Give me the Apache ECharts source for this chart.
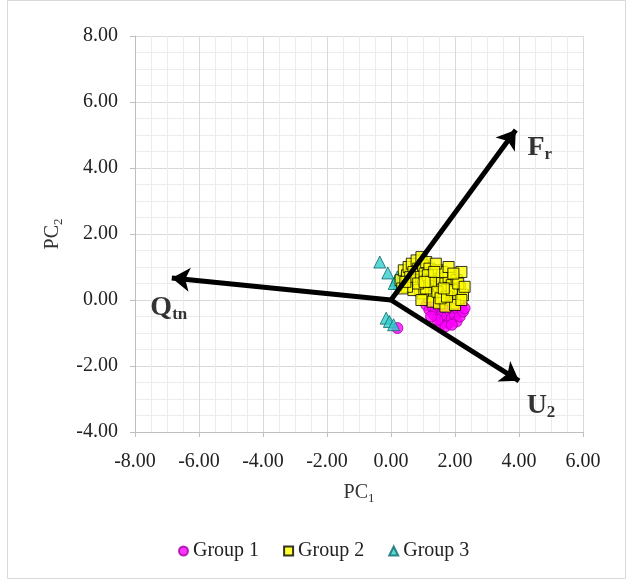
<!DOCTYPE html>
<html>
<head>
<meta charset="utf-8">
<script src="https://cdn.jsdelivr.net/npm/echarts@6/dist/echarts.min.js"></script>
<style>
  html, body { margin: 0; padding: 0; background: #fff; }
  #chart { width: 628px; height: 586px; }
</style>
</head>
<body>
<div id="chart"></div>
<script>
// PCA scores
var group1 = [
  [1.1,-0.15],[1.2,-0.3],[1.3,-0.2],[1.35,-0.45],[1.4,-0.3],[1.5,-0.55],[1.5,-0.2],
  [1.6,-0.4],[1.65,-0.65],[1.7,-0.25],[1.75,-0.5],[1.8,-0.7],[1.85,-0.35],[1.9,-0.55],
  [1.95,-0.2],[2.0,-0.45],[2.05,-0.65],[2.1,-0.3],[2.15,-0.5],[2.2,-0.15],[2.25,-0.35],
  [1.55,-0.75],[1.7,-0.8],[1.45,-0.6],[1.25,-0.5],[0.2,-0.85],[2.3,-0.25],[1.6,-0.05],
  [1.9,-0.75]
];
var group2 = [
  [0.3,0.6],[0.4,0.9],[0.5,0.75],[0.55,1.0],[0.6,0.5],[0.65,1.1],[0.7,0.85],[0.75,0.6],
  [0.8,1.2],[0.85,0.95],[0.9,0.7],[0.95,1.3],[1.0,1.05],[1.0,0.45],[1.05,0.8],[1.1,1.15],
  [1.15,0.6],[1.2,0.95],[1.25,0.3],[1.3,0.75],[1.35,0.5],[1.4,0.15],[1.45,0.9],[1.5,0.4],
  [1.55,0.65],[1.6,0.2],[1.65,0.0],[1.7,0.5],[1.75,0.3],[1.8,0.7],[1.85,0.1],[1.9,0.45],
  [1.95,-0.1],[2.0,0.25],[2.05,0.6],[2.1,0.05],[2.15,0.35],[2.2,0.85],[2.25,0.15],[1.2,0.1],
  [1.0,0.2],[0.9,0.3],[1.1,0.35],[0.7,0.3],[0.5,0.4],[1.3,-0.05],[1.5,-0.1],[1.7,-0.2],
  [2.0,-0.15],[1.6,0.85],[1.8,1.0],[1.4,1.1],[0.6,0.7],[0.85,0.5],[1.15,0.75],[1.25,0.55],
  [1.45,0.25],[1.55,0.05],[1.75,0.1],[1.9,0.3],[2.1,0.5],[2.3,0.4],[0.35,0.35],[0.45,0.55],
  [0.95,0.0],[1.05,0.55],[1.35,0.85],[1.65,0.35],[2.2,0.0],[1.95,0.8]
];
var group3 = [
  [-0.35,1.15],[-0.1,0.82],[0.15,0.6],[0.2,0.7],[0.25,0.5],[0.3,0.65],[0.35,0.55],
  [0.1,0.5],[-0.15,-0.55],[-0.05,-0.65],[0.08,-0.75]
];

// loading vectors (arrow tips)
var loadingNames = ['F', 'Q', 'U'];
var loadingSubs = ['r', 'tn', '2'];
var loadings = [[3.9, 5.15], [-6.85, 0.67], [4.0, -2.45]];

var xTicks = { min: -8, max: 6, step: 2 };
var yTicks = { min: -4, max: 8, step: 2 };

var font = 'Liberation Serif, Times New Roman, serif';

// where each arrow label sits relative to its tip (px)
var labelOffsets = [[24, 18], [-3, 30], [22, 25]];

var chart = echarts.init(document.getElementById('chart'));

var option = {
  backgroundColor: '#fff',
  animation: false,
  textStyle: { fontFamily: font },
  graphic: [{
    type: 'rect',
    shape: { x: 7.5, y: 0.5, width: 618, height: 578 },
    style: { fill: 'none', stroke: '#d9d9d9', lineWidth: 1 },
    z: -1
  }],
  grid: { left: 135, right: 45, top: 36, bottom: 154 },
  legend: {
    bottom: 20,
    left: 173,
    itemWidth: 9,
    itemHeight: 9,
    itemGap: 24,
    textStyle: { fontFamily: font, fontSize: 20, color: '#222' },
    data: ['Group 1', 'Group 2', 'Group 3']
  },
  xAxis: {
    type: 'value',
    min: xTicks.min, max: xTicks.max, interval: xTicks.step,
    name: '{a|PC}{b|1}',
    nameLocation: 'middle',
    nameGap: 48,
    nameTextStyle: {
      rich: {
        a: { fontFamily: font, fontSize: 20, color: '#333' },
        b: { fontFamily: font, fontSize: 13, color: '#333', padding: [12, 0, 0, 0] }
      }
    },
    axisLine: { onZero: false, lineStyle: { color: '#bfbfbf', width: 1 } },
    axisTick: { show: true, length: 5, lineStyle: { color: '#bfbfbf' } },
    axisLabel: {
      fontFamily: font, fontSize: 20, color: '#222', margin: 20,
      formatter: function (v) { return v.toFixed(2); }
    },
    splitLine: { show: true, lineStyle: { color: '#d9d9d9', width: 1 } },
    minorTick: { show: false, splitNumber: 4 },
    minorSplitLine: { show: true, lineStyle: { color: '#ececec', width: 1 } }
  },
  yAxis: {
    type: 'value',
    min: yTicks.min, max: yTicks.max, interval: yTicks.step,
    name: '{a|PC}{b|2}',
    nameLocation: 'middle',
    nameGap: 70,
    nameRotate: 90,
    nameTextStyle: {
      rich: {
        a: { fontFamily: font, fontSize: 20, color: '#333' },
        b: { fontFamily: font, fontSize: 13, color: '#333', padding: [12, 0, 0, 0] }
      }
    },
    axisLine: { show: true, onZero: false, lineStyle: { color: '#bfbfbf', width: 1 } },
    axisTick: { show: true, length: 5, lineStyle: { color: '#bfbfbf' } },
    axisLabel: {
      fontFamily: font, fontSize: 20, color: '#222', margin: 17,
      formatter: function (v) { return v.toFixed(2); }
    },
    splitLine: { show: true, lineStyle: { color: '#d9d9d9', width: 1 } },
    minorTick: { show: false, splitNumber: 4 },
    minorSplitLine: { show: true, lineStyle: { color: '#ececec', width: 1 } }
  },
  series: [
    {
      name: 'Group 1',
      type: 'scatter',
      symbol: 'circle',
      symbolSize: 11,
      z: 2,
      itemStyle: { color: '#ff00ff', borderColor: '#a000a0', borderWidth: 1 },
      data: group1
    },
    {
      name: 'Group 2',
      type: 'scatter',
      symbol: 'rect',
      symbolSize: 11,
      z: 4,
      itemStyle: { color: '#ffff00', borderColor: '#000', borderWidth: 1 },
      data: group2
    },
    {
      name: 'Group 3',
      type: 'scatter',
      symbol: 'triangle',
      symbolSize: 12,
      z: 3,
      itemStyle: { color: '#33cccc', borderColor: '#0b6b6b', borderWidth: 1 },
      data: group3
    },
    {
      name: 'loadings',
      type: 'lines',
      coordinateSystem: 'cartesian2d',
      z: 6,
      symbol: ['none', 'arrow'],
      symbolSize: [0, 18],
      lineStyle: { color: '#000', width: 5, opacity: 1 },
      data: loadings.map(function (p) { return { coords: [[0, 0], p] }; })
    },
    {
      name: 'loadingLabels',
      type: 'scatter',
      symbolSize: 0,
      z: 7,
      silent: true,
      data: loadings.map(function (p, i) {
        return {
          value: p,
          label: {
            show: true,
            position: 'inside',
            offset: labelOffsets[i],
            formatter: '{m|' + loadingNames[i] + '}{s|' + loadingSubs[i] + '}',
            rich: {
              m: { fontFamily: font, fontSize: 28, fontWeight: 'bold', color: '#000' },
              s: { fontFamily: font, fontSize: 17, fontWeight: 'bold', color: '#000', padding: [14, 0, 0, 0] }
            }
          }
        };
      })
    }
  ]
};

chart.setOption(option);
</script>
</body>
</html>
